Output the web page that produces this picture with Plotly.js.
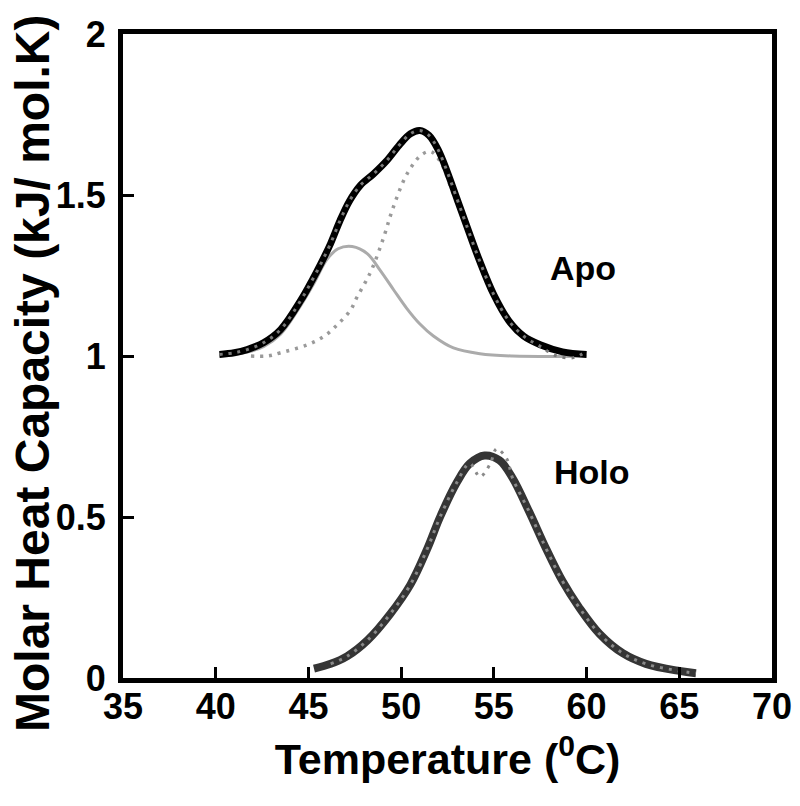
<!DOCTYPE html>
<html>
<head>
<meta charset="utf-8">
<script src="https://cdn.plot.ly/plotly-3.0.1.min.js"></script>
<style>html,body{margin:0;padding:0;background:#fff;}#chart{width:800px;height:806px;}</style>
</head>
<body>
<div id="chart"></div>
<script>
// Apo: total fit (black)
const apoT   = [40.2, 41.0, 41.7, 42.6, 43.5, 44.6, 45.2, 45.7, 46.2, 46.7, 47.2, 47.8, 48.5, 49.2, 49.9, 50.5, 51.0, 51.5, 52.0, 52.5, 53.0, 53.5, 54.2, 55.0, 55.8, 56.6, 57.5, 58.7, 60.0];
const apoFit = [1.005, 1.010, 1.020, 1.042, 1.082, 1.174, 1.235, 1.290, 1.350, 1.420, 1.480, 1.530, 1.565, 1.605, 1.655, 1.690, 1.700, 1.685, 1.640, 1.570, 1.490, 1.410, 1.300, 1.190, 1.110, 1.062, 1.035, 1.013, 1.005];
// Apo: experimental data (gray dots)
const apoDataT = [40.2, 41.0, 41.7, 42.6, 43.5, 44.6, 45.2, 45.7, 46.2, 46.7, 47.2, 47.8, 48.5, 49.2, 49.9, 50.5, 51.0, 51.5, 52.0, 52.5, 53.0, 53.5, 54.2, 55.0, 55.8, 56.6, 57.5, 58.4, 59.3, 60.0];
const apoData  = [1.005, 1.010, 1.020, 1.042, 1.082, 1.174, 1.235, 1.290, 1.350, 1.420, 1.480, 1.530, 1.565, 1.605, 1.655, 1.690, 1.700, 1.685, 1.640, 1.570, 1.490, 1.410, 1.300, 1.190, 1.110, 1.062, 1.030, 1.000, 0.995, 1.015];
// Apo: component 1 (solid gray)
const c1T = [40.2, 41.7, 42.6, 43.5, 44.4, 45.3, 46.0, 46.6, 47.36, 48.17, 48.88, 49.6, 50.3, 51.0, 51.74, 52.82, 54.25, 56.0, 60.0];
const c1  = [1.000, 1.012, 1.030, 1.068, 1.140, 1.226, 1.300, 1.333, 1.340, 1.318, 1.265, 1.205, 1.148, 1.100, 1.062, 1.025, 1.007, 1.000, 0.999];
// Apo: component 2 (dotted gray)
const c2T = [41.9, 42.8, 43.5, 44.95, 45.84, 46.56, 47.27, 47.63, 48.08, 48.44, 49.06, 49.51, 50.13, 50.58, 51.12, 51.6, 52.1, 52.8, 53.5, 54.2, 55.0, 55.8, 56.6, 57.5, 58.7, 60.0];
const c2  = [1.000, 1.000, 1.010, 1.035, 1.061, 1.097, 1.143, 1.184, 1.230, 1.272, 1.369, 1.451, 1.544, 1.590, 1.626, 1.635, 1.605, 1.505, 1.400, 1.290, 1.182, 1.105, 1.058, 1.032, 1.012, 1.003];
// Holo: fit (dark gray)
const holoT   = [45.3, 46.2, 47.1, 48.2, 49.4, 50.5, 51.4, 52.1, 53.0, 53.7, 54.5, 55.3, 56.0, 56.9, 57.8, 58.7, 59.6, 60.7, 61.95, 63.2, 65.0, 65.9];
const holoFit = [0.029, 0.044, 0.068, 0.118, 0.198, 0.290, 0.400, 0.500, 0.607, 0.666, 0.691, 0.676, 0.622, 0.517, 0.404, 0.301, 0.219, 0.137, 0.077, 0.044, 0.022, 0.015];
// Holo: experimental data (gray dots)
const holoDataT = [46.2, 47.1, 48.2, 49.4, 50.5, 51.4, 52.1, 53.0, 53.7, 54.25, 54.8, 55.15, 55.7, 56.0, 56.9, 57.8, 58.7, 59.6, 60.7, 61.95, 63.2, 65.0, 65.9];
const holoData  = [0.044, 0.068, 0.118, 0.198, 0.290, 0.400, 0.500, 0.607, 0.666, 0.625, 0.665, 0.712, 0.680, 0.622, 0.517, 0.404, 0.301, 0.219, 0.137, 0.077, 0.044, 0.022, 0.015];

const xTicks = [35, 40, 45, 50, 55, 60, 65, 70];
const yTicks = [0, 0.5, 1, 1.5, 2];
const yTickText = ['0', '0.5', '1', '1.5', '2'];
const labels = [{text: 'Apo', x: 59.8, y: 1.273}, {text: 'Holo', x: 60.28, y: 0.639}];
const yTitle = 'Molar Heat Capacity (kJ/ mol.K)';
const xTitle = 'Temperature (<sup>0</sup>C)';

const F = 'Liberation Sans, Arial, sans-serif';

const traces = [
  {x: c1T, y: c1, mode: 'lines', line: {color: '#ababab', width: 3, shape: 'spline'}},
  {x: c2T, y: c2, mode: 'lines', line: {color: '#9a9a9a', width: 3.5, dash: '3px,6px', shape: 'spline'}},
  {x: apoT, y: apoFit, mode: 'lines', line: {color: '#000000', width: 7, shape: 'spline'}},
  {x: apoDataT, y: apoData, mode: 'lines', line: {color: '#7a7a7a', width: 3, dash: '3px,6px', shape: 'spline'}},
  {x: holoT, y: holoFit, mode: 'lines', line: {color: '#353535', width: 8, shape: 'spline'}},
  {x: holoDataT, y: holoData, mode: 'lines', line: {color: '#8a8a8a', width: 3, dash: '3px,6px', shape: 'spline'}}
];

const layout = {
  width: 800, height: 806,
  margin: {l: 123, r: 28, t: 33.5, b: 127.5},
  paper_bgcolor: '#fff', plot_bgcolor: '#fff',
  showlegend: false,
  font: {family: F, color: '#000'},
  xaxis: {
    range: [35, 70], tickvals: xTicks, ticktext: xTicks.map(String),
    showgrid: false, zeroline: false,
    showline: true, linecolor: '#000', linewidth: 5, mirror: true,
    ticks: 'inside', ticklen: 11, tickwidth: 3, tickcolor: '#000',
    tickfont: {family: F, size: 36, color: '#000', weight: 'bold'},
    ticklabelstandoff: -7,
    title: {text: xTitle, font: {family: F, size: 43, color: '#000', weight: 'bold'}, standoff: 19}
  },
  yaxis: {
    range: [0, 2], tickvals: yTicks, ticktext: yTickText,
    showgrid: false, zeroline: false,
    showline: true, linecolor: '#000', linewidth: 5, mirror: true,
    ticks: 'inside', ticklen: 11, tickwidth: 3, tickcolor: '#000',
    tickfont: {family: F, size: 36, color: '#000', weight: 'bold'},
    ticklabelstandoff: 5
  },
  annotations: labels.map(l => ({
    x: l.x, y: l.y, xref: 'x', yref: 'y', text: l.text, showarrow: false,
    xanchor: 'center', yanchor: 'middle',
    font: {family: F, size: 34, color: '#000', weight: 'bold'}
  })).concat([{
    x: -0.1402, y: 0.4736, xref: 'paper', yref: 'paper', text: yTitle, showarrow: false,
    textangle: -90, xanchor: 'center', yanchor: 'middle',
    font: {family: F, size: 48, color: '#000', weight: 'bold'}
  }])
};

Plotly.newPlot('chart', traces, layout, {staticPlot: true, displayModeBar: false});
</script>
</body>
</html>
